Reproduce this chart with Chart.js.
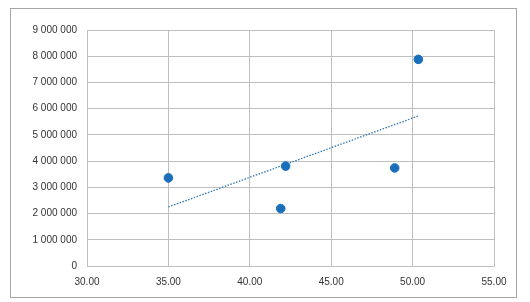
<!DOCTYPE html>
<html>
<head>
<meta charset="utf-8">
<script src="https://cdn.jsdelivr.net/npm/chart.js@4"></script>
<style>
  html, body { margin: 0; padding: 0; background: #fff; }
  #wrap { width: 530px; height: 302px; position: relative; }
</style>
</head>
<body>
<div id="wrap"><canvas id="chart"></canvas></div>
<script>
// values
const xValues = [35.0, 42.2, 41.9, 48.9, 50.35];
const yValues = [3360000, 3810000, 2190000, 3740000, 7880000];

// linear trendline end points
const trendX = [35.0, 50.35];
const trendY = [2250000, 5720000];

const xMin = 30, xMax = 55, xStep = 5;
const yMin = 0, yMax = 9000000, yStep = 1000000;

const gridColor = '#bfbfbf';
const labelColor = '#333333';
const pointColor = '#1a6fba';
const tickFont = { family: "'Liberation Sans', Arial, sans-serif", size: 10 };

const points = xValues.map((x, i) => ({ x: x, y: yValues[i] }));
const trend = trendX.map((x, i) => ({ x: x, y: trendY[i] }));

// outer chart frame, like the spreadsheet chart border
const framePlugin = {
  id: 'frame',
  afterDraw(chart) {
    const ctx = chart.ctx;
    ctx.save();
    ctx.strokeStyle = '#a6a6a6';
    ctx.lineWidth = 1;
    ctx.strokeRect(10.5, 8.5, 506, 289);
    ctx.restore();
  }
};

new Chart(document.getElementById('chart'), {
  type: 'scatter',
  data: {
    datasets: [
      {
        label: 'trend',
        data: trend,
        showLine: true,
        borderColor: '#2e75b6',
        borderWidth: 1.3,
        borderDash: [1.5, 1.5],
        pointRadius: 0,
        fill: false,
        order: 2
      },
      {
        label: 'values',
        data: points,
        backgroundColor: pointColor,
        borderColor: pointColor,
        pointRadius: 4.3,
        pointHoverRadius: 4.3,
        order: 1
      }
    ]
  },
  options: {
    responsive: true,
    maintainAspectRatio: false,
    animation: false,
    layout: {
      padding: { left: 0, top: 30, right: 36, bottom: 0 }
    },
    plugins: {
      legend: { display: false },
      tooltip: { enabled: false }
    },
    scales: {
      x: {
        type: 'linear',
        min: xMin,
        max: xMax,
        afterFit(scale) { scale.height = 36; },
        grid: { color: gridColor, drawTicks: false },
        border: { color: gridColor },
        ticks: {
          stepSize: xStep,
          padding: 10,
          color: labelColor,
          font: tickFont,
          callback: (v) => Number(v).toFixed(2)
        }
      },
      y: {
        type: 'linear',
        min: yMin,
        max: yMax,
        afterFit(scale) { scale.width = 87; },
        grid: { color: gridColor, drawTicks: false },
        border: { color: gridColor },
        ticks: {
          stepSize: yStep,
          padding: 10,
          color: labelColor,
          font: tickFont,
          callback: (v) => String(Math.round(v)).replace(/\B(?=(\d{3})+(?!\d))/g, ' ')
        }
      }
    }
  },
  plugins: [framePlugin]
});
</script>
</body>
</html>
